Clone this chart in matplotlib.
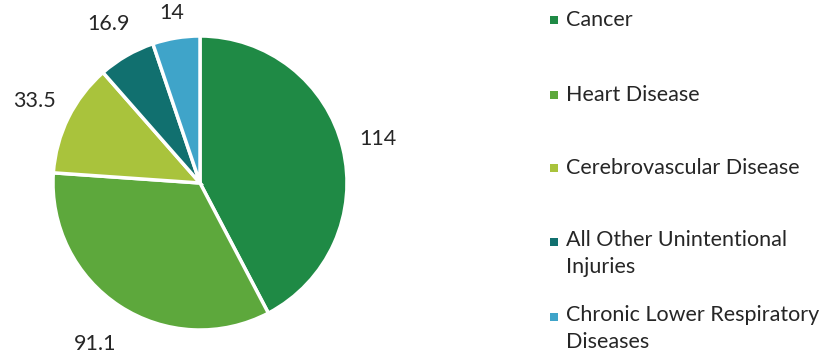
import matplotlib.pyplot as plt
import numpy as np
from matplotlib.patches import Rectangle

# Data
categories = ['Cancer', 'Heart Disease', 'Cerebrovascular Disease',
              'All Other Unintentional\nInjuries', 'Chronic Lower Respiratory\nDiseases']
values = [114, 91.1, 33.5, 16.9, 14]
value_labels = ['114', '91.1', '33.5', '16.9', '14']
colors = ['#1f8a45', '#5da83c', '#a9c33c', '#11706f', '#3fa4c9']

plt.rcParams['font.family'] = ['Lato', 'DejaVu Sans']
text_color = '#262626'

fig = plt.figure(figsize=(8.28, 3.6), dpi=100)

# pie centre ~ (200, 183) px, radius ~147 px
cx, cy, r = 200, 183, 147
ax = fig.add_axes([(cx - r) / 828, (360 - cy - r) / 360, 2 * r / 828, 2 * r / 360])
wedges, _ = ax.pie(values, colors=colors, startangle=90, counterclock=False,
                   wedgeprops=dict(edgecolor='white', linewidth=2.5))
ax.set_xlim(-1, 1)
ax.set_ylim(-1, 1)
ax.set_aspect('equal')

# value labels around the pie
label_dist = [1.25, 1.31, 1.26, 1.25, 1.17]
for w, lab, d in zip(wedges, value_labels, label_dist):
    ang = np.deg2rad((w.theta1 + w.theta2) / 2)
    ax.text(d * np.cos(ang), d * np.sin(ang), lab, ha='center', va='center',
            fontsize=15.5, color=text_color)

# legend drawn by hand to match spacing
legend_y = [20, 95, 168, 242, 317]
for y, name, c in zip(legend_y, categories, colors):
    fig.add_artist(Rectangle((550 / 828, (360 - y - 4) / 360), 8 / 828, 8 / 360,
                             transform=fig.transFigure, facecolor=c, edgecolor='none'))
    t = fig.text(566 / 828, (360 - y) / 360, name, ha='left', va='center',
                 fontsize=15.5, color=text_color, linespacing=1.45)
    if '\n' in name:
        # put first line on the row, second line below it
        t.set_va('top')
        t.set_position((566 / 828, (360 - y + 12) / 360))

fig.savefig('out.png', dpi=100)
